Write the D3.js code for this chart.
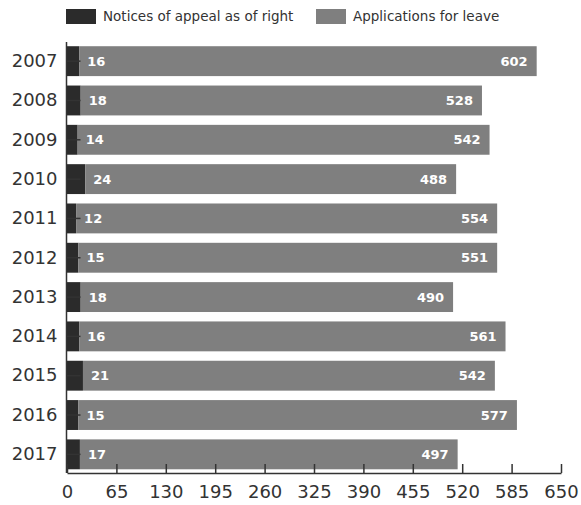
<!DOCTYPE html>
<html>
<head>
<meta charset="utf-8">
<script src="https://cdn.jsdelivr.net/npm/d3@7"></script>
<style>
  html, body { margin: 0; padding: 0; background: #fff; }
  svg { display: block; font-family: "DejaVu Sans", sans-serif; }
</style>
</head>
<body>
<svg id="chart" width="581" height="505"></svg>
<script>
// Court filings by year: appeals as of right and applications for leave
const years = ["2007", "2008", "2009", "2010", "2011", "2012", "2013", "2014", "2015", "2016", "2017"];
const appealsOfRight = [16, 18, 14, 24, 12, 15, 18, 16, 21, 15, 17];
const leaveApplications = [602, 528, 542, 488, 554, 551, 490, 561, 542, 577, 497];
const seriesNames = ["Notices of appeal as of right", "Applications for leave"];
const xTicks = [0, 65, 130, 195, 260, 325, 390, 455, 520, 585, 650];

const colors = ["#2b2b2b", "#7f7f7f"];

const rows = years.map((y, i) => ({ year: y, right: appealsOfRight[i], leave: leaveApplications[i] }));

const svg = d3.select("#chart");

const x = d3.scaleLinear().domain([0, 650]).range([67, 561]);
const y = d3.scaleBand().domain(years).range([41.5, 474]).paddingInner(0.24).paddingOuter(0.12);

const stack = d3.stack().keys(["right", "leave"]);
const layers = stack(rows);

// Stacked bars
const g = svg.append("g");
layers.forEach((layer, li) => {
  g.selectAll(null)
    .data(layer)
    .join("rect")
    .attr("x", d => x(d[0]))
    .attr("y", d => y(d.data.year))
    .attr("width", d => x(d[1]) - x(d[0]))
    .attr("height", y.bandwidth())
    .attr("fill", colors[li]);
});

// Value labels
const labels = svg.append("g")
  .attr("fill", "#fff")
  .attr("font-size", 13)
  .attr("font-weight", "bold");

labels.selectAll(null)
  .data(layers[0])
  .join("text")
  .attr("x", d => x(d[1]) + 8)
  .attr("y", d => y(d.data.year) + y.bandwidth() / 2)
  .attr("dy", "0.36em")
  .text(d => d.data.right);

labels.selectAll(null)
  .data(layers[1])
  .join("text")
  .attr("x", d => x(d[1]) - 9)
  .attr("y", d => y(d.data.year) + y.bandwidth() / 2)
  .attr("dy", "0.36em")
  .attr("text-anchor", "end")
  .text(d => d.data.leave);

// Axes
const xAxis = svg.append("g")
  .attr("transform", "translate(0,473)")
  .call(d3.axisBottom(x).tickValues(xTicks).tickSize(-9).tickSizeOuter(0).tickPadding(12));
xAxis.selectAll("text").attr("font-size", 18).attr("fill", "#333").style("font-family", "DejaVu Sans, sans-serif");
xAxis.selectAll("line, path").attr("stroke", "#333").attr("stroke-width", 1.5);

const yAxis = svg.append("g")
  .attr("transform", "translate(66.5,0)")
  .call(d3.axisLeft(y).tickSize(-14).tickSizeOuter(0).tickPadding(9));
yAxis.select(".domain").attr("d", "M0,42V473");
yAxis.selectAll("text").attr("font-size", 18).attr("fill", "#333").style("font-family", "DejaVu Sans, sans-serif");
yAxis.selectAll("line, path").attr("stroke", "#333").attr("stroke-width", 1.5);

// Legend
const legend = svg.append("g").attr("font-size", 13.5).attr("fill", "#333");
const legendX = [66, 316];
seriesNames.forEach((name, i) => {
  legend.append("rect")
    .attr("x", legendX[i]).attr("y", 9)
    .attr("width", 30).attr("height", 15)
    .attr("fill", colors[i]);
  legend.append("text")
    .attr("x", legendX[i] + 37).attr("y", 16.5)
    .attr("dy", "0.35em")
    .text(name);
});
</script>
</body>
</html>
